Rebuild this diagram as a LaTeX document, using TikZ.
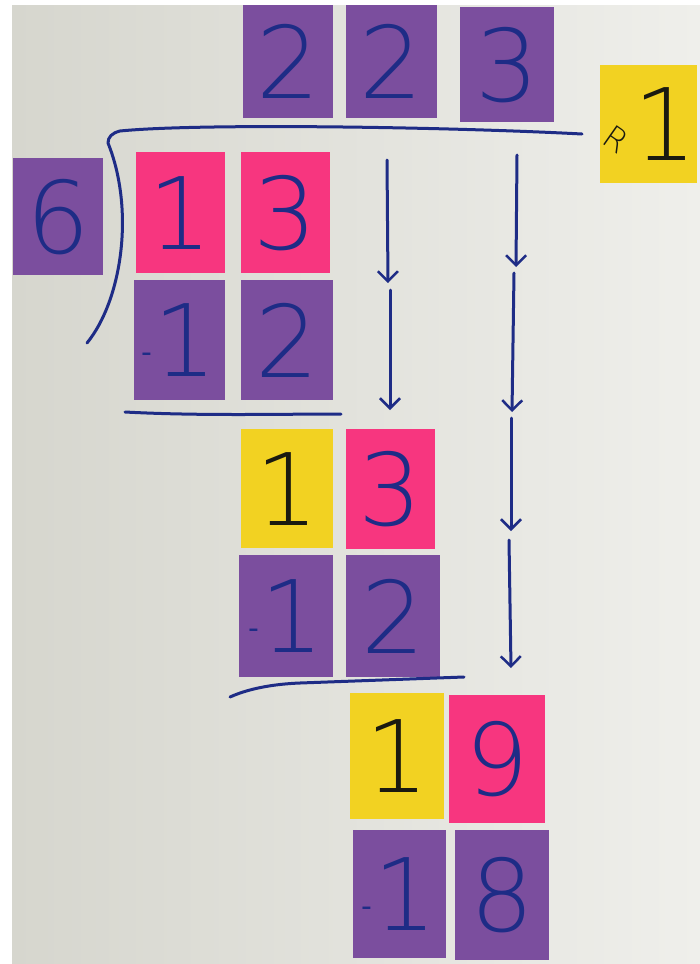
\documentclass[tikz,border=0pt]{standalone}
\usepackage{fontspec}
\setmainfont{DejaVu Sans ExtraLight}
\newfontfamily\penfont{DejaVu Sans}
\usetikzlibrary{arrows.meta}
\definecolor{wallL}{HTML}{D6D6CE}
\definecolor{wallR}{HTML}{EFEFEB}
\definecolor{purp}{HTML}{7B4E9E}
\definecolor{pinkn}{HTML}{F7367F}
\definecolor{yell}{HTML}{F2D222}
\definecolor{ink}{HTML}{1E2C86}
\definecolor{blk}{HTML}{1A1A10}
\tikzset{
 note/.style={anchor=north west, inner sep=0pt, font=\fontsize{100}{100}\selectfont, text=ink},
 pnote/.style={note, fill=purp},
 knote/.style={note, fill=pinkn},
 ynote/.style={note, fill=yell, text=blk},
 pen/.style={draw=ink, line width=3pt, line cap=round, line join=round},
 arr/.style={pen, -{Straight Barb[length=10pt,width=20pt,line width=2.5pt]}}
}
\newcommand{\negone}{\raisebox{14pt}{\penfont\fontsize{30}{30}\selectfont -}\hspace{1pt}1}
\begin{document}
\begin{tikzpicture}[x=1pt,y=-1pt]
\useasboundingbox (0,0) rectangle (700,964);
\fill[white] (0,0) rectangle (700,964);
\shade[left color=wallL, right color=wallR] (12,5) rectangle (700,964);
% quotient
\node[pnote, minimum width=90pt, minimum height=113pt] (q1) at (243,5) {2};
\node[pnote, minimum width=91pt, minimum height=113pt] (q2) at (346,5) {2};
\node[pnote, minimum width=94pt, minimum height=115pt] (q3) at (460,7) {3};
\node[ynote, minimum width=96pt, minimum height=118pt] (rem) at (600,65) {\raisebox{18pt}{\rotatebox{-35}{\fontsize{32}{32}\selectfont R}}\hspace{2pt}1};
% divisor
\node[pnote, minimum width=90pt, minimum height=117pt] (dv) at (13,158) {6};
% dividend
\node[knote, minimum width=89pt, minimum height=121pt] (d1) at (136,152) {1};
\node[knote, minimum width=89pt, minimum height=121pt] (d2) at (241,152) {3};
\node[pnote, minimum width=91pt, minimum height=120pt] (s1) at (134,280) {\negone};
\node[pnote, minimum width=92pt, minimum height=120pt] (s2) at (241,280) {2};
% second step
\node[ynote, minimum width=92pt, minimum height=119pt] (r1) at (241,429) {1};
\node[knote, minimum width=89pt, minimum height=120pt] (r2) at (346,429) {3};
\node[pnote, minimum width=94pt, minimum height=122pt] (t1) at (239,555) {\negone};
\node[pnote, minimum width=94pt, minimum height=122pt] (t2) at (346,555) {2};
% third step
\node[ynote, minimum width=94pt, minimum height=126pt] (u1) at (350,693) {1};
\node[knote, minimum width=96pt, minimum height=128pt] (u2) at (449,695) {9};
\node[pnote, minimum width=93pt, minimum height=128pt] (w1) at (353,830) {\negone};
\node[pnote, minimum width=94pt, minimum height=130pt] (w2) at (455,830) {8};
% division bracket
\coordinate (brR) at (582,134);
\coordinate (brB) at (87,343);
\draw[pen] (brR) .. controls (450,127) and (200,123) .. (120,131)
  .. controls (112,133) and (108,137) .. (108,143)
  .. controls (135,210) and (122,300) .. (brB);
% underlines
\coordinate (ul1a) at (125,412);
\coordinate (ul1b) at (341,414);
\draw[pen] (ul1a) .. controls (200,416) and (280,414) .. (ul1b);
\coordinate (ul2a) at (230,697);
\coordinate (ul2b) at (464,677);
\draw[pen] (ul2a) .. controls (250,688) and (275,684) .. (300,683) -- (ul2b);
% arrows
\coordinate (a1) at (387,160); \coordinate (a2) at (388,283);
\coordinate (a3) at (390,290); \coordinate (a4) at (390,410);
\coordinate (b1) at (517,155); \coordinate (b2) at (516,267);
\coordinate (b3) at (514,273); \coordinate (b4) at (512,412);
\coordinate (b5) at (511,418); \coordinate (b6) at (511,531);
\coordinate (b7) at (509,540); \coordinate (b8) at (511,668);
\draw[arr] (a1) -- (a2);
\draw[arr] (a3) -- (a4);
\draw[arr] (b1) -- (b2);
\draw[arr] (b3) -- (b4);
\draw[arr] (b5) -- (b6);
\draw[arr] (b7) -- (b8);
\end{tikzpicture}
\end{document}
